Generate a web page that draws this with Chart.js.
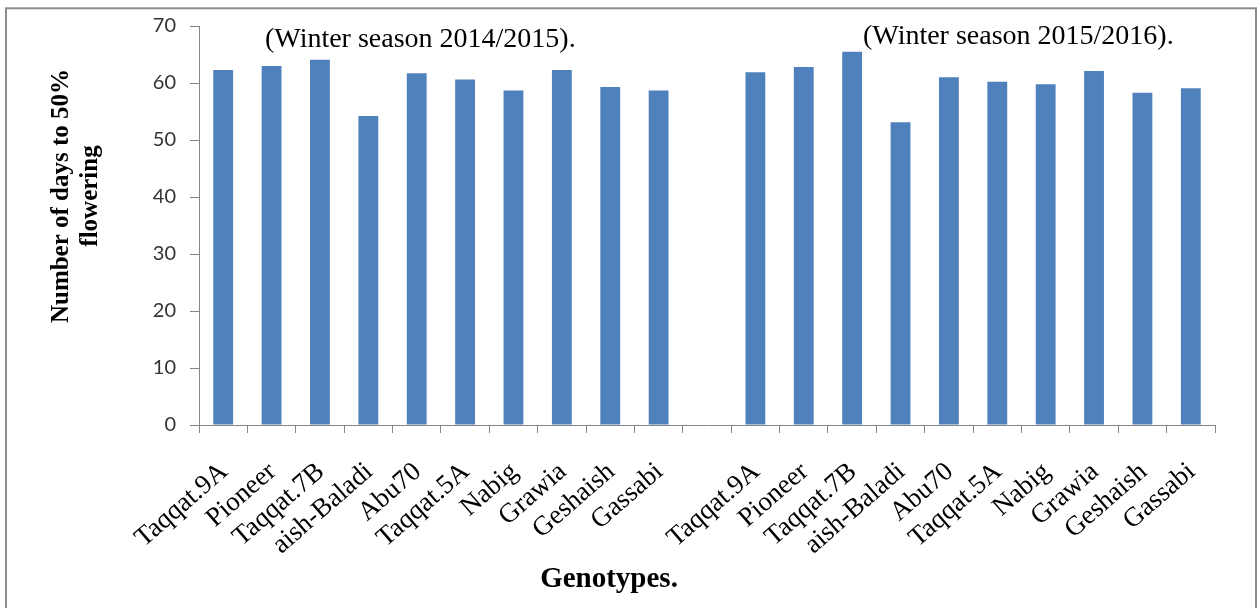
<!DOCTYPE html>
<html>
<head>
<meta charset="utf-8">
<script src="https://cdn.jsdelivr.net/npm/chart.js@4.4.1/dist/chart.umd.min.js"></script>
<style>
  html, body { margin: 0; padding: 0; background: #ffffff; }
  canvas { display: block; }
</style>
</head>
<body>
<canvas id="chart" width="1260" height="608"></canvas>
<script>
// Genotypes evaluated in each season
const genotypes = ['Taqqat.9A', 'Pioneer', 'Taqqat.7B', 'aish-Baladi', 'Abu70',
                   'Taqqat.5A', 'Nabig', 'Grawia', 'Geshaish', 'Gassabi'];

// Number of days to 50% flowering
const season2014 = [62.3, 63.0, 64.1, 54.2, 61.7, 60.6, 58.7, 62.3, 59.3, 58.7];
const season2015 = [61.9, 62.8, 65.5, 53.1, 61.0, 60.2, 59.8, 62.1, 58.3, 59.1];

const seasonLabels = ['(Winter season 2014/2015).', '(Winter season 2015/2016).'];
const yAxisMin = 0;
const yAxisMax = 70;
const yAxisStep = 10;
const yTitleLines = ['Number of days to 50%', 'flowering'];
const xTitle = 'Genotypes.';

// Both seasons share one category axis, separated by an empty slot
const categories = [...genotypes, '', ...genotypes];
const values = [...season2014, null, ...season2015];

const SERIF = '"Liberation Serif", "Times New Roman", serif';
const AXIS_GREY = '#868686';

// Frame, season captions and axis titles
const decorations = {
  id: 'decorations',
  beforeDraw(chart) {
    const ctx = chart.ctx;
    ctx.save();
    ctx.fillStyle = '#ffffff';
    ctx.fillRect(0, 0, chart.width, chart.height);
    ctx.strokeStyle = '#8c8c8c';
    ctx.lineWidth = 2;
    ctx.strokeRect(6, 8.3, chart.width - 10, chart.height + 20);
    ctx.restore();
  },
  afterDraw(chart) {
    const ctx = chart.ctx;
    const area = chart.chartArea;
    ctx.save();
    ctx.fillStyle = '#000000';

    // season captions above each group
    ctx.font = '28px ' + SERIF;
    ctx.textAlign = 'left';
    ctx.textBaseline = 'alphabetic';
    ctx.fillText(seasonLabels[0], area.left + 66, area.top + 21);
    ctx.fillText(seasonLabels[1], area.left + 664, area.top + 18);

    // y axis title, two rotated lines
    ctx.font = 'bold 25px ' + SERIF;
    ctx.textAlign = 'center';
    const midY = area.top + 170;
    [68, 97].forEach((x, i) => {
      ctx.save();
      ctx.translate(x, midY);
      ctx.rotate(-Math.PI / 2);
      ctx.fillText(yTitleLines[i], 0, 0);
      ctx.restore();
    });

    // x axis title
    ctx.font = 'bold 29px ' + SERIF;
    ctx.textAlign = 'center';
    ctx.fillText(xTitle, area.left + 410, area.bottom + 162);
    ctx.restore();
  }
};

new Chart(document.getElementById('chart'), {
  type: 'bar',
  data: {
    labels: categories,
    datasets: [{
      data: values,
      backgroundColor: '#4F81BD',
      borderWidth: 0,
      barPercentage: 0.41,
      categoryPercentage: 1.0
    }]
  },
  options: {
    responsive: false,
    animation: false,
    devicePixelRatio: 1,
    layout: { padding: { left: 0, right: 45, top: 24, bottom: 0 } },
    plugins: {
      legend: { display: false },
      tooltip: { enabled: false },
      title: { display: false }
    },
    scales: {
      x: {
        offset: true,
        border: { display: true, color: AXIS_GREY, width: 1 },
        grid: {
          display: true,
          drawOnChartArea: false,
          drawTicks: true,
          tickLength: 8,
          color: AXIS_GREY,
          offset: true
        },
        ticks: {
          autoSkip: false,
          minRotation: 41,
          maxRotation: 41,
          padding: 23,
          labelOffset: 1,
          color: '#000000',
          font: { family: SERIF, size: 27 }
        },
        afterFit(scale) { scale.height = 183; }
      },
      y: {
        min: yAxisMin,
        max: yAxisMax,
        border: { display: true, color: AXIS_GREY, width: 1 },
        grid: {
          display: true,
          drawOnChartArea: false,
          drawTicks: true,
          tickLength: 9,
          color: AXIS_GREY
        },
        ticks: {
          stepSize: yAxisStep,
          padding: 14,
          color: '#333333',
          font: { family: 'Lato, "Liberation Sans", sans-serif', size: 20 }
        },
        afterFit(scale) { scale.width = 199; }
      }
    }
  },
  plugins: [decorations]
});
</script>
</body>
</html>
